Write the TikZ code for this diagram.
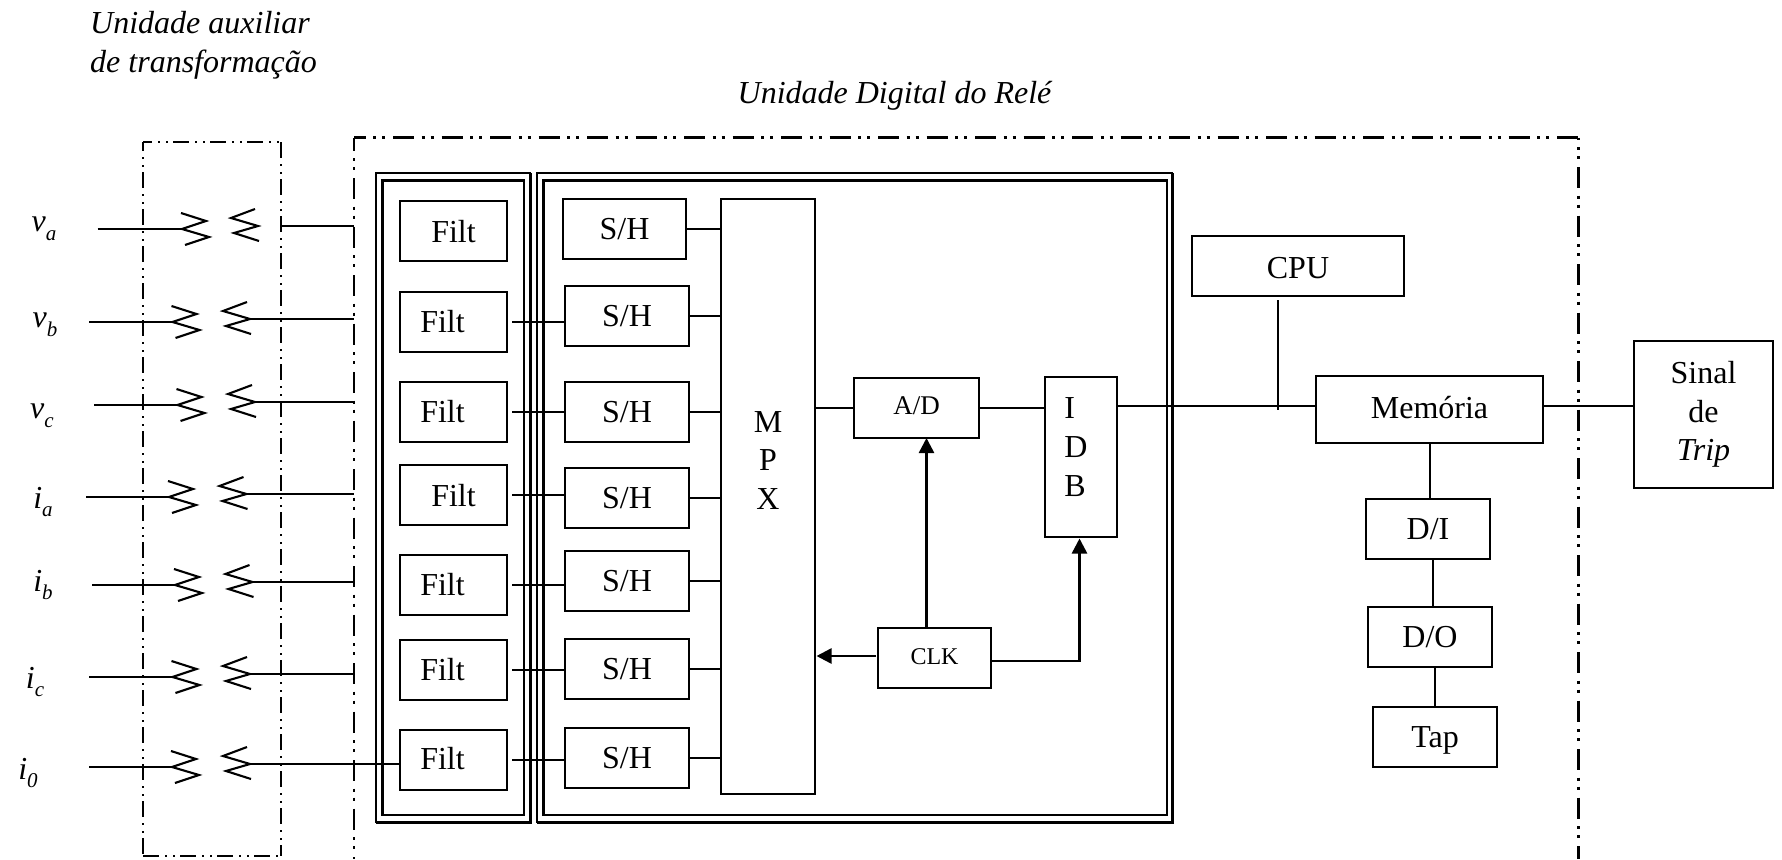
\documentclass[tikz,border=0pt]{standalone}
\usepackage{fontspec}
\setmainfont{Liberation Serif}
\usetikzlibrary{arrows.meta,calc}
\newcommand{\mainsz}{\fontsize{32}{38.6}\selectfont}
\newcommand{\adsz}{\fontsize{27}{30}\selectfont}
\newcommand{\clksz}{\fontsize{24}{30}\selectfont}
\newcommand{\subscr}[1]{\raisebox{-0.28em}{\fontsize{21}{21}\selectfont #1}}
\newcommand{\bx}[6][]{%
  \node[boxst,minimum width={(#4)-(#2)},minimum height={(#5)-(#3)},#1] (#6) at ({((#2)+(#4))/2},{((#3)+(#5))/2}) }
\tikzset{
  every node/.style={font=\mainsz},
  boxst/.style={draw,line width=2pt,inner sep=0pt,outer sep=0pt},
  oneline/.style={text height=21pt,text depth=0pt},
  wire/.style={line width=2pt},
  chev/.style={line width=2.1pt},
  clkarrow/.style={line width=2.5pt,-{Triangle[length=15pt,width=15pt]}},
  auxframe/.style={line width=1.5pt,dash pattern=on 16pt off 6pt on 2pt off 6pt on 2pt off 5pt},
  digframe/.style={line width=2.6pt,dash pattern=on 21pt off 7.5pt on 3pt off 6pt on 3pt off 8pt},
  shiftleft/.style={label={[xshift=-11pt]center:Filt}},
  shiftlast/.style={label={[xshift=-11pt,yshift=1pt]center:Filt}},
  shiftnone/.style={label={[yshift=-1pt]center:Filt}}
}
\begin{document}
\begin{tikzpicture}[x=1pt,y=-1pt]
\useasboundingbox (0,0) rectangle (1782,859);

% headings
\node[anchor=west,align=left,font=\mainsz\itshape,inner sep=0pt] (headaux) at (90,45.5) {Unidade auxiliar\\de transformação};
\node[font=\mainsz\itshape,inner sep=0pt] (headdig) at (894.5,96) {Unidade Digital do Relé};

% frames
\draw[auxframe,dash phase=7pt] (143,142) -- (281,142);
\draw[auxframe,dash phase=7pt] (143,142) -- (143,856);
\draw[auxframe] (281,142) -- (281,856);
\draw[auxframe,line width=2pt] (143,856) -- (281,856);
\draw[digframe,dash phase=9.5pt] (354,137.5) -- (1578.5,137.5);
\draw[digframe,dash phase=8pt] (354,137.5) -- (354,859);
\draw[digframe,dash phase=19pt] (1578.5,137.5) -- (1578.5,859);

% double frames
\draw[line width=2pt] (376,173) rectangle (530,822);
\draw[line width=2pt] (382,180) rectangle (524,815);
\draw[line width=3pt] (530,173) -- (530,822) -- (376,822);
\draw[line width=3pt] (382,815) -- (382,180) -- (524,180);
\draw[line width=2pt] (537,173) rectangle (1172,822);
\draw[line width=2pt] (543,180) rectangle (1167,815);
\draw[line width=3pt] (1172,173) -- (1172,822) -- (537,822);
\draw[line width=3pt] (543,815) -- (543,180) -- (1167,180);

% Filt boxes
\bx[shiftnone]{400}{201}{507}{261}{f1} {};
\bx[shiftleft]{400}{292}{507}{352}{f2} {};
\bx[shiftleft]{400}{382}{507}{442}{f3} {};
\bx[shiftnone]{400}{465}{507}{525}{f4} {};
\bx[shiftleft]{400}{555}{507}{615}{f5} {};
\bx[shiftleft]{400}{640}{507}{700}{f6} {};
\bx[shiftlast]{400}{730}{507}{790}{f7} {};

% S/H boxes
\bx[oneline]{563}{199}{686}{259}{s1} {S/H};
\bx[oneline]{565}{286}{689}{346}{s2} {S/H};
\bx[oneline]{565}{382}{689}{442}{s3} {S/H};
\bx[oneline]{565}{468}{689}{528}{s4} {S/H};
\bx[oneline]{565}{551}{689}{611}{s5} {S/H};
\bx[oneline]{565}{639}{689}{699}{s6} {S/H};
\bx[oneline]{565}{728}{689}{788}{s7} {S/H};

% MPX, A/D, CLK, IDB
\bx[label={[align=center,yshift=36pt]center:M\\P\\X}]{721}{199}{815}{794}{mpx} {};
\bx[font=\adsz,text height=21pt,text depth=8.6pt]{854}{378}{979}{438}{ad} {A/D};
\bx[font=\clksz,text height=18pt,text depth=6pt]{878}{628}{991}{688}{clk} {CLK};
\bx[label={[align=left,xshift=-5pt,yshift=10pt]center:I\\D\\B}]{1045}{377}{1117}{537}{idb} {};

% right column
\bx[text height=24pt,text depth=0pt]{1192}{236}{1404}{296}{cpu} {CPU};
\bx[text height=24pt,text depth=7pt]{1316}{376}{1543}{443}{mem} {Memória};
\bx[oneline]{1366}{499}{1490}{559}{di} {D/I};
\bx[oneline]{1368}{607}{1492}{667}{do} {D/O};
\bx[oneline]{1373}{707}{1497}{767}{tap} {Tap};
\bx[align=center]{1634}{341}{1773}{488}{sinal} {Sinal\\de\\\textit{Trip}};

% Filt -> S/H -> MPX
\foreach \i in {2,...,7}{
  \draw[wire] ($(f\i.east)+(5,0)$) -- (f\i.east -| s\i.west);
}
\foreach \i in {1,...,7}{
  \draw[wire] (s\i.east) -- (s\i.east -| mpx.west);
}

% bus
\coordinate (bus) at (1117,406);
\coordinate (cputop) at (1278,300);
\coordinate (cpubot) at (1278,410);
\draw[wire] (ad.west -| mpx.east) -- (ad.west);
\draw[wire] (ad.east) -- (ad.east -| idb.west);
\draw[wire] (bus -| idb.east) -- (bus -| mem.west);
\draw[wire] (cputop) -- (cpubot);
\draw[wire] (bus -| mem.east) -- (bus -| sinal.west);
\draw[wire] (mem.south) -- (mem.south |- di.north);
\draw[wire] ($(do.north)+(3,0)$) -- ($(di.south)+(5,0)$);
\draw[wire] (tap.north) -- (tap.north |- do.south);

% clock arrows
\coordinate (clkup) at (926.5,628);
\draw[clkarrow] (clkup) -- (clkup |- ad.south);
\draw[clkarrow] ($(clk.west)+(-2,-2)$) -- ($(clk.west -| mpx.east)+(1.5,-2)$);
\draw[clkarrow] ($(clk.east)+(0,3)$) -| ($(idb.south)+(-1.5,1.5)$);

% input channels: name / label / label x,y / start x / y / left junction x / right junction x / y / wire start x
\foreach \n/\lab/\lx/\ly/\sx/\sy/\jx/\rx/\ry/\wx in {
  va/{v\subscr{a}}/44/229/97.5/229/182/258/226/281,
  vb/{v\subscr{b}}/45/325/89/322/172.5/250/319/250,
  vc/{v\subscr{c}}/42/416/94/405/177.5/255/402/255,
  ia/{i\subscr{a}}/43/502/86/497/169/246.5/494/246.5,
  ib/{i\subscr{b}}/43/585/92/585/175/252.5/582/252.5,
  ic/{i\subscr{c}}/35/682/89/677/172.5/250/674/250
}{
  \node[inner sep=0pt,font=\mainsz\itshape] (lab\n) at (\lx,\ly) {\lab};
  \coordinate (start\n) at (\sx,\sy);
  \coordinate (jl\n) at (\jx,\sy);
  \coordinate (jr\n) at (\rx,\ry);
  \coordinate (ws\n) at (\wx,\ry);
  \coordinate (we\n) at (354,\ry);
  \draw[wire] (start\n) -- (jl\n);
  \draw[wire] (ws\n) -- (we\n);
  \draw[chev] ($(jl\n)+(-1,-16)$) -- ($(jl\n)+(24,-8)$) -- (jl\n) -- ($(jl\n)+(27,8)$) -- ($(jl\n)+(3,16)$);
  \draw[chev] ($(jr\n)+(-3,-17)$) -- ($(jr\n)+(-27,-8)$) -- (jr\n) -- ($(jr\n)+(-24,7)$) -- ($(jr\n)+(1,15)$);
}
% i0 runs on into its filter
\node[inner sep=0pt,font=\mainsz\itshape] (labiz) at (28,773) {i\subscr{0}};
\coordinate (startiz) at (89,767);
\coordinate (jliz) at (172,767);
\coordinate (jriz) at (250,764);
\draw[wire] (startiz) -- (jliz);
\draw[wire] (jriz) -- (jriz -| f7.west);
\draw[chev] ($(jliz)+(-1,-16)$) -- ($(jliz)+(24,-8)$) -- (jliz) -- ($(jliz)+(27,8)$) -- ($(jliz)+(3,16)$);
\draw[chev] ($(jriz)+(-3,-17)$) -- ($(jriz)+(-27,-8)$) -- (jriz) -- ($(jriz)+(-24,7)$) -- ($(jriz)+(1,15)$);
\end{tikzpicture}
\end{document}
